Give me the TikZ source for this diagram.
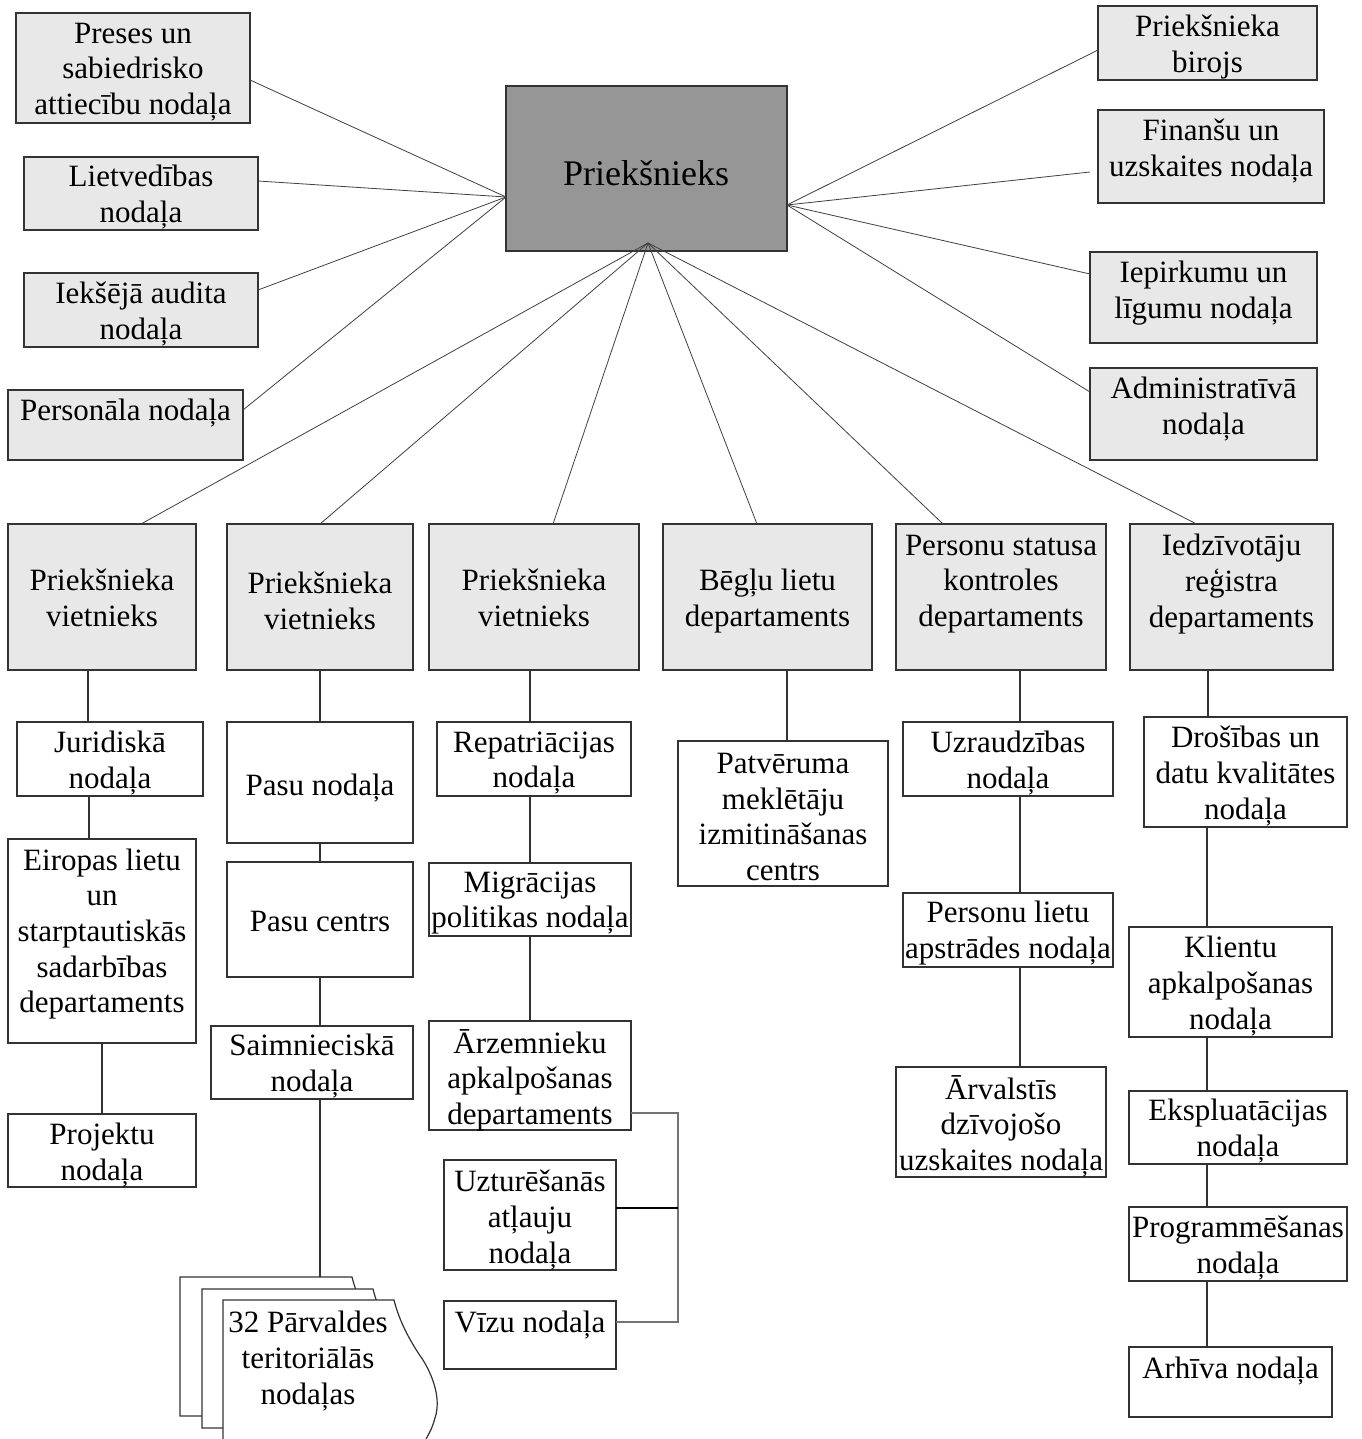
\documentclass[tikz,border=0pt]{standalone}
\usepackage{fontspec}
\setmainfont{Liberation Serif}
\usetikzlibrary{calc}
\definecolor{boxgray}{HTML}{E8E8E8}
\definecolor{chiefgray}{HTML}{969696}
\tikzset{
  box/.style={draw=black!80, line width=1.2pt, fill=white, inner sep=0pt, outer sep=0pt},
  gbox/.style={box, fill=boxgray},
  chief/.style={box, fill=chiefgray},
  txt/.style={align=center, inner sep=0pt, yshift=-3pt, font=\fontsize{31}{35.7}\selectfont},
  bigtxt/.style={align=center, inner sep=0pt, font=\fontsize{36}{41}\selectfont},
  conn/.style={draw=black!75, line width=0.8pt},
  vconn/.style={draw=black!80, line width=1.3pt},
  bconn/.style={draw=black!55, line width=1.2pt},
  sheet/.style={fill=white, draw=black!80, line width=1.2pt},
}
% name, style, x1, y1, x2, y2, text-y, text
\newcommand\bx[8]{%
  \node[#2, minimum width={(#5-#3)*1pt}, minimum height={(#6-#4)*1pt}] (#1) at ({(#3+#5)/2},{(#4+#6)/2}) {};
  \node[txt] (#1t) at ({(#3+#5)/2},#7) {#8};}
% vertical connector from a to b at x
\newcommand\vcon[3]{\draw[vconn] (#1.south -| #3,0) -- (#2.north -| #3,0);}
% document sheet: L, T, R, H
\newcommand\docsheet[4]{%
  \filldraw[sheet] (#1,#2) -- (#3,#2)
    .. controls ({#3+5},{#2+20}) and ({#3+15},{#2+40}) .. ({#3+29},{#2+60})
    .. controls ({#3+40},{#2+78}) and ({#3+47},{#2+100}) .. ({#3+41},{#2+118})
    .. controls ({#3+38},{#2+128}) .. ({#3+31},{#2+#4})
    -- (#1,{#2+#4}) -- cycle;}

\begin{document}
\begin{tikzpicture}[x=1pt, y=-1pt]
\fill[white] (0,0) rectangle (1361,1439);
\useasboundingbox (0,0) rectangle (1361,1439);

% chief
\node[chief, minimum width=281pt, minimum height=165pt] (pr) at (646.5,168.5) {};
\node[bigtxt] (prt) at (646,173) {Priekšnieks};

% top-left
\bx{preses}{gbox}{16}{13}{250}{123}{69}{Preses un\\sabiedrisko\\attiecību nodaļa}
\bx{lietv}{gbox}{24}{157}{258}{230}{194}{Lietvedības\\nodaļa}
\bx{iekse}{gbox}{24}{273}{258}{347}{311}{Iekšējā audita\\nodaļa}
\bx{pers}{gbox}{8}{390}{243}{460}{410}{Personāla nodaļa}
% top-right
\bx{birojs}{gbox}{1098}{6}{1317}{80}{44}{Priekšnieka\\birojs}
\bx{fin}{gbox}{1098}{110}{1324}{203}{148}{Finanšu un\\uzskaites nodaļa}
\bx{iep}{gbox}{1090}{252}{1317}{343}{290}{Iepirkumu un\\līgumu nodaļa}
\bx{adm}{gbox}{1090}{368}{1317}{460}{406}{Administratīvā\\nodaļa}
% second row
\bx{v1}{gbox}{8}{524}{196}{670}{595}{Priekšnieka\\vietnieks}
\bx{v2}{gbox}{227}{524}{413}{670}{598}{Priekšnieka\\vietnieks}
\bx{v3}{gbox}{429}{524}{639}{670}{595}{Priekšnieka\\vietnieks}
\bx{beg}{gbox}{663}{524}{872}{670}{598}{Bēgļu lietu\\departaments}
\bx{pst}{gbox}{896}{524}{1106}{670}{581}{Personu statusa\\kontroles\\departaments}
\bx{iedz}{gbox}{1130}{524}{1333}{670}{581}{Iedzīvotāju\\reģistra\\departaments}

% column 1
\bx{jur}{box}{17}{722}{203}{796}{760}{Juridiskā\\nodaļa}
\bx{eir}{box}{8}{839}{196}{1043}{931}{Eiropas lietu\\un\\starptautiskās\\sadarbības\\departaments}
\bx{proj}{box}{8}{1114}{196}{1187}{1152}{Projektu\\nodaļa}
% column 2
\bx{pasu}{box}{227}{722}{413}{843}{785}{Pasu nodaļa}
\bx{pcen}{box}{227}{862}{413}{977}{918}{Pasu centrs}
\bx{saim}{box}{211}{1026}{413}{1099}{1063}{Saimnieciskā\\nodaļa}
% document stack
\docsheet{180}{1277}{352}{139}
\docsheet{202}{1289}{373}{139}
\docsheet{223}{1300}{394}{141}
\node[txt] (docs) at (308,1358) {32 Pārvaldes\\teritoriālās\\nodaļas};
\coordinate (docsTop) at (320,1277);
% column 3
\bx{rep}{box}{437}{722}{631}{796}{760}{Repatriācijas\\nodaļa}
\bx{migr}{box}{429}{863}{631}{936}{900}{Migrācijas\\politikas nodaļa}
\bx{arz}{box}{429}{1021}{631}{1130}{1077}{Ārzemnieku\\apkalpošanas\\departaments}
\bx{uzt}{box}{444}{1160}{616}{1270}{1217}{Uzturēšanās\\atļauju\\nodaļa}
\bx{vizu}{box}{444}{1301}{616}{1369}{1322}{Vīzu nodaļa}
% column 4
\bx{patv}{box}{678}{741}{888}{886}{814}{Patvēruma\\meklētāju\\izmitināšanas\\centrs}
% column 5
\bx{uzr}{box}{903}{722}{1113}{796}{760}{Uzraudzības\\nodaļa}
\bx{plietu}{box}{903}{893}{1113}{967}{930}{Personu lietu\\apstrādes nodaļa}
\bx{arv}{box}{896}{1067}{1106}{1177}{1123}{Ārvalstīs\\dzīvojošo\\uzskaites nodaļa}
% column 6
\bx{dros}{box}{1144}{717}{1347}{827}{773}{Drošības un\\datu kvalitātes\\nodaļa}
\bx{klien}{box}{1129}{927}{1332}{1037}{983}{Klientu\\apkalpošanas\\nodaļa}
\bx{eksp}{box}{1129}{1091}{1347}{1164}{1128}{Ekspluatācijas\\nodaļa}
\bx{prog}{box}{1129}{1207}{1347}{1281}{1245}{Programmēšanas\\nodaļa}
\bx{arh}{box}{1129}{1347}{1332}{1417}{1368}{Arhīva nodaļa}

% convergence points on the chief box
\coordinate (pL) at (506,197);
\coordinate (pR) at (787,205);
\coordinate (pB) at (648,243);

% chief connectors
\draw[conn] (pL) -- ([yshift=-12pt]preses.east);
\draw[conn] (pL) -- ([yshift=12.5pt]lietv.east);
\draw[conn] (pL) -- ([yshift=20pt]iekse.east);
\draw[conn] (pL) -- ([yshift=15pt]pers.east);
\draw[conn] (pR) -- ([yshift=-7pt]birojs.west);
\draw[conn] (pR) -- ([xshift=-8pt,yshift=-15.5pt]fin.west);
\draw[conn] (pR) -- ([yshift=23.5pt]iep.west);
\draw[conn] (pR) -- ([yshift=22pt]adm.west);
\draw[conn] (pB) -- ([xshift=39pt]v1.north);
\draw[conn] (pB) -- (v2.north);
\draw[conn] (pB) -- ([xshift=19pt]v3.north);
\draw[conn] (pB) -- ([xshift=-10.5pt]beg.north);
\draw[conn] (pB) -- ([xshift=-58pt]pst.north);
\draw[conn] (pB) -- ([xshift=-35pt]iedz.north);

% vertical connectors
\vcon{v1}{jur}{88}
\vcon{jur}{eir}{89}
\vcon{eir}{proj}{102}
\vcon{v2}{pasu}{320}
\vcon{pasu}{pcen}{320}
\vcon{pcen}{saim}{320}
\draw[vconn] (saim.south -| docsTop) -- (docsTop);
\vcon{v3}{rep}{530}
\vcon{rep}{migr}{530}
\vcon{migr}{arz}{530}
\vcon{beg}{patv}{787}
\vcon{pst}{uzr}{1020}
\vcon{uzr}{plietu}{1020}
\vcon{plietu}{arv}{1020}
\vcon{iedz}{dros}{1208}
\vcon{dros}{klien}{1207}
\vcon{klien}{eksp}{1207}
\vcon{eksp}{prog}{1207}
\vcon{prog}{arh}{1207}

% bracket
\draw[bconn] ([yshift=-37.5pt]arz.east) -| ([xshift=62pt,yshift=13pt]vizu.east) -- ([yshift=13pt]vizu.east);
\draw[draw=black, line width=1.6pt] ([yshift=7pt]uzt.east) -- ++(62pt,0);
\end{tikzpicture}
\end{document}
